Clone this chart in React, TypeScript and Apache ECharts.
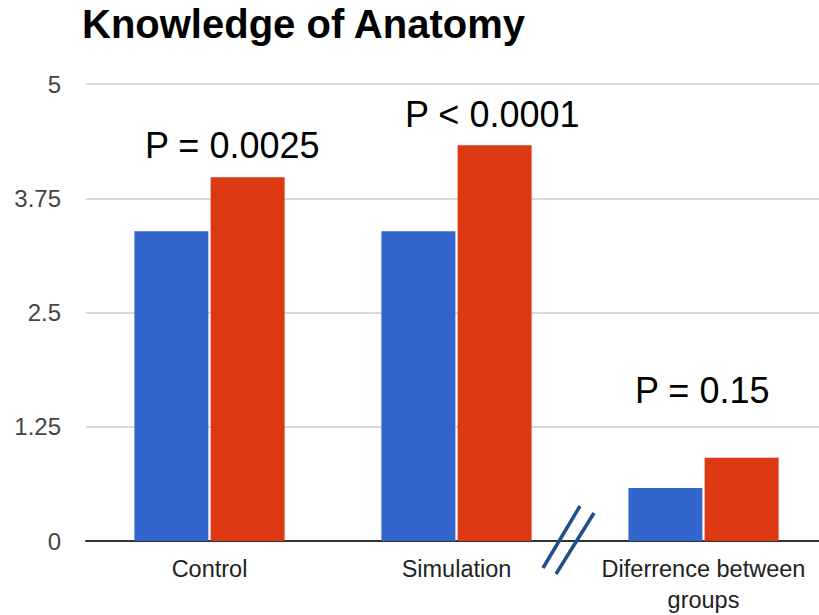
import React, { useEffect, useRef } from "react";
import * as echarts from "echarts";

const categories = ["Control", "Simulation", "Diferrence between groups"];
const seriesA = [3.39, 3.39, 0.58];
const seriesB = [3.98, 4.33, 0.91];
const yTicks = { min: 0, max: 5, interval: 1.25 };
const titleText = "Knowledge of Anatomy";
const pLabels = ["P = 0.0025", "P < 0.0001", "P = 0.15"];

export default function App() {
  const ref = useRef<HTMLDivElement>(null);
  useEffect(() => {
    if (!ref.current) return;
    const chart = echarts.init(ref.current, null, { renderer: "svg" });
    const font = "'Liberation Sans', Arial, sans-serif";
    const pPos = [
      [145, 145],
      [405, 114],
      [635, 390],
    ];
    chart.setOption({
      animation: false,
      textStyle: { fontFamily: font },
      title: {
        text: titleText,
        left: 82,
        top: 4,
        padding: 0,
        textStyle: { fontSize: 40, fontWeight: "bold", color: "#000", fontFamily: font },
      },
      grid: { left: 86, right: 0, top: 84, bottom: 74, containLabel: false },
      xAxis: {
        type: "category",
        data: categories,
        axisLine: { show: true, lineStyle: { color: "#333", width: 2 } },
        axisTick: { show: false },
        axisLabel: {
          fontSize: 23.5,
          color: "#222",
          margin: 12,
          lineHeight: 31,
          fontFamily: font,
          interval: 0,
          formatter: (v: string) => v.replace(" groups", "\ngroups"),
        },
      },
      yAxis: {
        type: "value",
        min: yTicks.min,
        max: yTicks.max,
        interval: yTicks.interval,
        axisLine: { show: false },
        axisTick: { show: false },
        splitLine: { lineStyle: { color: "#ccc", width: 1.5 } },
        axisLabel: { fontSize: 24, color: "#444", margin: 25, fontFamily: font },
      },
      series: [
        {
          type: "bar",
          data: seriesA,
          barWidth: 74,
          barGap: "3%",
          itemStyle: { color: "#3366cc" },
        },
        {
          type: "bar",
          data: seriesB,
          barWidth: 74,
          barGap: "3%",
          itemStyle: { color: "#dc3912" },
        },
      ],
      graphic: [
        ...pLabels.map((t, i) => ({
          type: "text",
          left: pPos[i][0],
          top: pPos[i][1] - 18,
          style: { text: t, fontSize: 36, fill: "#000", fontFamily: font },
        })),
        {
          type: "line",
          shape: { x1: 580, y1: 506, x2: 543, y2: 568 },
          style: { stroke: "#1f4e8c", lineWidth: 3.5 },
          z: 100,
        },
        {
          type: "line",
          shape: { x1: 594, y1: 513, x2: 556, y2: 574 },
          style: { stroke: "#1f4e8c", lineWidth: 3.5 },
          z: 100,
        },
      ],
    });
    return () => chart.dispose();
  }, []);
  return (
    <div
      style={{
        position: "fixed",
        left: 0,
        top: 0,
        width: 819,
        height: 615,
        overflow: "hidden",
        background: "#fff",
      }}
    >
      <div ref={ref} style={{ width: 827, height: 615 }} />
    </div>
  );
}
